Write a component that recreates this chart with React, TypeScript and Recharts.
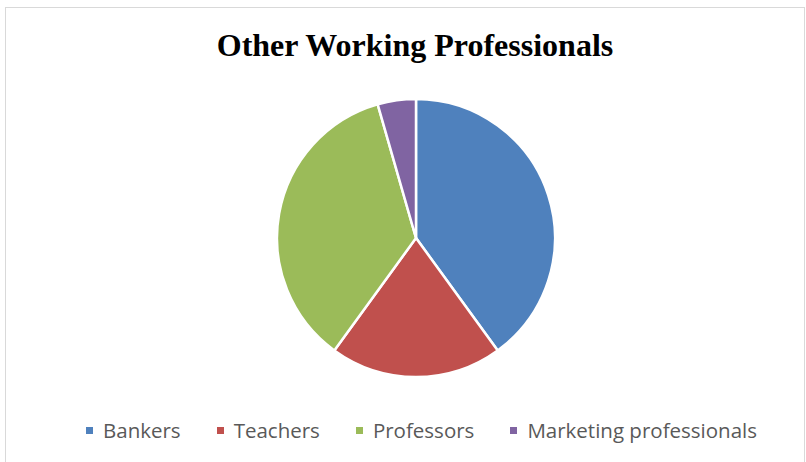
import React from "react";
import { PieChart, Pie, Cell, Legend } from "recharts";

const categories = ["Bankers", "Teachers", "Professors", "Marketing professionals"];
const counts = [18, 9, 16, 2];
const colors = ["#4F81BD", "#C0504D", "#9BBB59", "#8064A2"];

const data = categories.map((name, i) => ({ name, value: counts[i] }));

function LegendContent() {
  return (
    <div
      style={{
        display: "flex",
        justifyContent: "flex-start",
        paddingLeft: 80,
        width: 798,
        boxSizing: "border-box",
        whiteSpace: "nowrap",
        fontFamily: "'Open Sans', sans-serif",
        fontSize: 20.5,
        color: "#595959",
      }}
    >
      {categories.map((c, i) => (
        <div key={c} style={{ display: "flex", alignItems: "center", marginRight: 36, flexShrink: 0 }}>
          <span style={{ display: "inline-block", width: 7, height: 7, background: colors[i], marginRight: 10 }} />
          <span>{c}</span>
        </div>
      ))}
    </div>
  );
}

export default function App() {
  return (
    <div
      style={{
        position: "fixed",
        left: 5,
        top: 7,
        width: 800,
        height: 462,
        border: "1px solid #d9d9d9",
        background: "#fff",
        boxSizing: "border-box",
      }}
    >
      <div
        style={{
          position: "absolute",
          left: 0,
          top: 19,
          width: 818,
          textAlign: "center",
          fontFamily: "'Liberation Serif', 'Times New Roman', serif",
          fontWeight: "bold",
          fontSize: 32,
          color: "#000",
        }}
      >
        Other Working Professionals
      </div>
      <PieChart width={798} height={455} margin={{ top: 0, right: 0, bottom: 0, left: 0 }}>
        <Pie
          data={data}
          dataKey="value"
          nameKey="name"
          cx={410}
          cy={230}
          outerRadius={139}
          startAngle={90}
          endAngle={-270}
          stroke="#fff"
          strokeWidth={2.5}
          isAnimationActive={false}
        >
          {data.map((d, i) => (
            <Cell key={d.name} fill={colors[i]} />
          ))}
        </Pie>
        <Legend
          verticalAlign="bottom"
          wrapperStyle={{ top: 408, bottom: "auto", left: 0, width: 798 }}
          content={<LegendContent />}
        />
      </PieChart>
    </div>
  );
}
